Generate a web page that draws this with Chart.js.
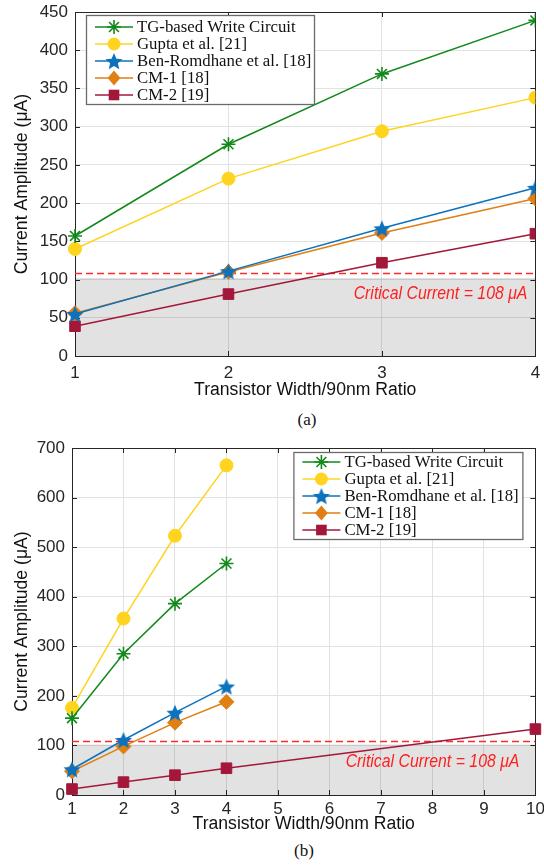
<!DOCTYPE html>
<html>
<head>
<meta charset="utf-8">
<script src="https://cdn.jsdelivr.net/npm/chart.js@4.4.0/dist/chart.umd.min.js"></script>
<style>
  body { margin: 0; background: #fff; width: 544px; height: 867px; position: relative; overflow: hidden; }
  .wrap { position: absolute; left: 0; width: 544px; }
  .cap { position: absolute; font: 17px "Liberation Serif", "Times New Roman", serif; color: #111; transform: translateX(-50%); }
</style>
</head>
<body>
<div class="wrap" style="top:0;height:401px"><canvas id="chartA" width="544" height="401"></canvas></div>
<div class="cap" style="left:307px;top:410px">(a)</div>
<div class="wrap" style="top:430px;height:405px"><canvas id="chartB" width="544" height="405"></canvas></div>
<div class="cap" style="left:304px;top:841px">(b)</div>
<script>
// (a) widths 1..4
const ratioA = [1, 2, 3, 4];
const tgA = [157, 277, 369, 439];
const guptaA = [140, 232, 294, 338];
const benA = [55, 111, 167, 220];
const cm1A = [56, 110, 161, 206];
const cm2A = [39, 81, 122, 160];

// (b) widths 1..4, CM-2 goes up to 10
const ratioB = [1, 2, 3, 4];
const ratioCm2B = [1, 2, 3, 4, 10];
const tgB = [155, 285, 386, 467];
const guptaB = [176, 356, 523, 665];
const benB = [52, 111, 166, 219];
const cm1B = [48, 98, 146, 188];
const cm2B = [12, 26, 40, 54, 133];

const criticalCurrent = 108;
const shadeTop = 102;
const seriesNames = ['TG-based Write Circuit', 'Gupta et al. [21]', 'Ben-Romdhane et al. [18]', 'CM-1 [18]', 'CM-2 [19]'];

const SANS = '"Liberation Sans", Arial, sans-serif';
const SERIF = '"Liberation Serif", "Times New Roman", serif';
const INK = '#262626';

function starImage(color, r) {
  const c = document.createElement('canvas');
  const s = Math.ceil(r * 2 + 2);
  c.width = c.height = s;
  const g = c.getContext('2d');
  g.beginPath();
  for (let i = 0; i < 10; i++) {
    const rr = i % 2 ? r * 0.45 : r;
    const a = -Math.PI / 2 + i * Math.PI / 5;
    g.lineTo(s / 2 + rr * Math.cos(a), s / 2 + 1 + rr * Math.sin(a));
  }
  g.closePath();
  g.fillStyle = color;
  g.fill();
  return c;
}

const styles = [
  { color: '#12891a', point: 'star', radius: 7, bw: 1.6 },
  { color: '#ffd41f', point: 'circle', radius: 6.5, bw: 1 },
  { color: '#0c72bd', point: starImage('#0c72bd', 9), radius: 8, bw: 0 },
  { color: '#e07f12', point: 'rectRot', radius: 7.5, bw: 1 },
  { color: '#a3183a', point: 'rect', radius: 7.5, bw: 1 }
];

const pts = (xs, ys) => ys.map((y, i) => ({ x: xs[i], y: y }));

function seriesSets(list, clip) {
  return list.map((d, i) => ({
    label: seriesNames[i],
    data: pts(d[0], d[1]),
    borderColor: styles[i].color,
    backgroundColor: styles[i].color,
    pointBackgroundColor: styles[i].color,
    pointBorderColor: styles[i].color,
    borderWidth: 1.5,
    pointStyle: styles[i].point,
    pointRadius: styles[i].radius,
    pointBorderWidth: styles[i].bw,
    clip: clip
  }));
}

function refSets(xMin, xMax) {
  return [
    { label: 'critical', data: pts([xMin, xMax], [criticalCurrent, criticalCurrent]),
      borderColor: '#ff2b2b', borderWidth: 1.6, borderDash: [7, 4], pointRadius: 0 },
    { label: 'shade', data: pts([xMin, xMax], [shadeTop, shadeTop]),
      borderWidth: 0, pointRadius: 0, fill: 'origin', backgroundColor: 'rgba(0,0,0,0.115)' }
  ];
}

// box with inward ticks, MATLAB style
const framePlugin = {
  id: 'frame',
  beforeDatasetsDraw(chart) {
    const { ctx, chartArea: a, scales: { x, y } } = chart;
    ctx.save();
    ctx.strokeStyle = INK;
    ctx.lineWidth = 1;
    ctx.strokeRect(Math.round(a.left) + 0.5, Math.round(a.top) + 0.5, Math.round(a.right - a.left), Math.round(a.bottom - a.top));
    ctx.beginPath();
    x.ticks.forEach(t => {
      const px = Math.round(x.getPixelForValue(t.value)) + 0.5;
      ctx.moveTo(px, a.bottom); ctx.lineTo(px, a.bottom - 5);
      ctx.moveTo(px, a.top); ctx.lineTo(px, a.top + 5);
    });
    y.ticks.forEach(t => {
      const py = Math.round(y.getPixelForValue(t.value)) + 0.5;
      ctx.moveTo(a.left, py); ctx.lineTo(a.left + 5, py);
      ctx.moveTo(a.right, py); ctx.lineTo(a.right - 5, py);
    });
    ctx.stroke();
    ctx.restore();
  }
};

function drawMarker(ctx, st, cx, cy) {
  ctx.save();
  ctx.fillStyle = st.color;
  ctx.strokeStyle = st.color;
  ctx.lineWidth = st.bw || 1;
  const r = st.radius;
  if (typeof st.point !== 'string') {
    ctx.drawImage(st.point, cx - st.point.width / 2, cy - st.point.height / 2);
  } else if (st.point === 'star') {
    ctx.beginPath();
    for (let k = 0; k < 4; k++) {
      const a = k * Math.PI / 4;
      ctx.moveTo(cx - r * Math.cos(a), cy - r * Math.sin(a));
      ctx.lineTo(cx + r * Math.cos(a), cy + r * Math.sin(a));
    }
    ctx.stroke();
  } else if (st.point === 'circle') {
    ctx.beginPath(); ctx.arc(cx, cy, r, 0, Math.PI * 2); ctx.fill();
  } else if (st.point === 'rectRot') {
    ctx.beginPath();
    ctx.moveTo(cx, cy - r); ctx.lineTo(cx + r * 0.85, cy); ctx.lineTo(cx, cy + r); ctx.lineTo(cx - r * 0.85, cy);
    ctx.closePath(); ctx.fill();
  } else {
    const h = r * Math.SQRT1_2;
    ctx.fillRect(cx - h, cy - h, 2 * h, 2 * h);
  }
  ctx.restore();
}

const boxLegendPlugin = {
  id: 'boxLegend',
  afterDraw(chart, args, opts) {
    const { ctx, chartArea: a } = chart;
    const left = opts.side === 'left' ? a.left + opts.dx : a.right - opts.dx - opts.width;
    const top = a.top + opts.dy;
    ctx.save();
    ctx.fillStyle = '#fff';
    ctx.fillRect(left, top, opts.width, opts.height);
    ctx.strokeStyle = '#6a6a6a';
    ctx.lineWidth = 1.3;
    ctx.strokeRect(left + 0.5, top + 0.5, opts.width, opts.height);
    ctx.font = '16.8px ' + SERIF;
    ctx.textBaseline = 'middle';
    seriesNames.forEach((name, i) => {
      const cy = top + opts.first + i * opts.step;
      ctx.strokeStyle = styles[i].color;
      ctx.lineWidth = 1.5;
      ctx.beginPath(); ctx.moveTo(left + 9, cy); ctx.lineTo(left + 47, cy); ctx.stroke();
      drawMarker(ctx, styles[i], left + 28, cy);
      ctx.fillStyle = '#111';
      ctx.fillText(name, left + 51, cy + 1);
    });
    ctx.restore();
  }
};

const criticalLabelPlugin = {
  id: 'criticalLabel',
  afterDatasetsDraw(chart, args, opts) {
    const { ctx, scales: { x, y } } = chart;
    ctx.save();
    ctx.translate(x.getPixelForValue(x.max) - opts.dx, y.getPixelForValue(opts.yValue));
    ctx.scale(0.88, 1);
    ctx.font = 'italic 18px ' + SANS;
    ctx.fillStyle = '#ff1f1f';
    ctx.textAlign = 'right';
    ctx.textBaseline = 'middle';
    ctx.fillText('Critical Current = ' + criticalCurrent + ' \u03bcA', 0, 0);
    ctx.restore();
  }
};

function makeChart(id, cfg) {
  return new Chart(document.getElementById(id).getContext('2d'), {
    type: 'line',
    data: { datasets: cfg.datasets },
    options: {
      responsive: false,
      animation: false,
      layout: { padding: cfg.padding },
      plugins: {
        legend: { display: false },
        tooltip: { enabled: false },
        boxLegend: cfg.legend,
        criticalLabel: cfg.label
      },
      scales: {
        x: {
          type: 'linear', min: cfg.xMin, max: cfg.xMax,
          afterFit: s => { s.height = cfg.xHeight; s.paddingLeft = 0; s.paddingRight = 0; },
          ticks: { stepSize: 1, padding: cfg.xTickPad, color: INK, font: { family: SANS, size: 17 } },
          grid: { color: '#e2e2e2', drawTicks: false },
          border: { display: false },
          title: { display: true, text: 'Transistor Width/90nm Ratio', color: '#111',
            font: { family: SANS, size: 17.6 }, padding: { top: 0, bottom: cfg.xTitlePad } }
        },
        y: {
          min: 0, max: cfg.yMax,
          afterFit: s => { s.width = cfg.yWidth; s.paddingTop = 0; s.paddingBottom = 0; },
          ticks: { stepSize: cfg.yStep, padding: 7, color: INK, font: { family: SANS, size: 17 } },
          grid: { color: '#e2e2e2', drawTicks: false },
          border: { display: false },
          title: { display: true, text: 'Current Amplitude (\u03bcA)', color: '#111',
            font: { family: SANS, size: 17.6 }, padding: { top: 12, bottom: 0 } }
        }
      }
    },
    plugins: [framePlugin, boxLegendPlugin, criticalLabelPlugin]
  });
}

makeChart('chartA', {
  datasets: seriesSets([[ratioA, tgA], [ratioA, guptaA], [ratioA, benA], [ratioA, cm1A], [ratioA, cm2A]],
    { left: false, top: false, right: 0, bottom: false }).concat(refSets(1, 4)),
  padding: { top: 12, right: 3, left: 0, bottom: 0 },
  xMin: 1, xMax: 4, yMax: 450, yStep: 50, yWidth: 75, xHeight: 45, xTickPad: 7, xTitlePad: 0,
  legend: { side: 'left', dx: 11, dy: 3, width: 228, height: 89, first: 12, step: 17 },
  label: { dx: 8, yValue: 81 }
});

makeChart('chartB', {
  datasets: seriesSets([[ratioB, tgB], [ratioB, guptaB], [ratioB, benB], [ratioB, cm1B], [ratioCm2B, cm2B]],
    false).concat(refSets(1, 10)),
  padding: { top: 18, right: 6, left: 0, bottom: 0 },
  xMin: 1, xMax: 10, yMax: 700, yStep: 100, yWidth: 72, xHeight: 40, xTickPad: 4, xTitlePad: 0,
  legend: { side: 'right', dx: 13, dy: 4, width: 229, height: 87, first: 10, step: 17 },
  label: { dx: 16, yValue: 67 }
});
</script>
</body>
</html>
